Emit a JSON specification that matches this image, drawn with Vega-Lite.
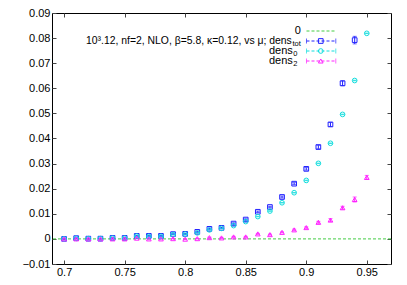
{
  "$schema": "https://vega.github.io/schema/vega-lite/v6.json",
  "width": 339,
  "height": 251,
  "autosize": {"type": "none"},
  "padding": {"left": 52, "top": 13, "right": 16, "bottom": 21},
  "background": "white",
  "config": {
    "view": {"stroke": "black", "strokeWidth": 1},
    "axis": {"labelFont": "Liberation Sans", "labelFontSize": 11, "labelColor": "black", "domain": false, "grid": false, "tickColor": "#444444", "tickSize": -4, "title": null}
  },
  "datasets": {
    "main": [
      {"mu": 0.70, "s": "tot", "v": 0.0000, "e": 0.0002},
      {"mu": 0.71, "s": "tot", "v": 0.0003, "e": 0.0002},
      {"mu": 0.72, "s": "tot", "v": 0.0001, "e": 0.0002},
      {"mu": 0.73, "s": "tot", "v": 0.0001, "e": 0.0002},
      {"mu": 0.74, "s": "tot", "v": 0.0004, "e": 0.0002},
      {"mu": 0.75, "s": "tot", "v": 0.0004, "e": 0.0002},
      {"mu": 0.76, "s": "tot", "v": 0.0012, "e": 0.0002},
      {"mu": 0.77, "s": "tot", "v": 0.0012, "e": 0.0002},
      {"mu": 0.78, "s": "tot", "v": 0.0012, "e": 0.0002},
      {"mu": 0.79, "s": "tot", "v": 0.0019, "e": 0.0002},
      {"mu": 0.80, "s": "tot", "v": 0.0020, "e": 0.0002},
      {"mu": 0.81, "s": "tot", "v": 0.0028, "e": 0.0002},
      {"mu": 0.82, "s": "tot", "v": 0.0040, "e": 0.0002},
      {"mu": 0.83, "s": "tot", "v": 0.0044, "e": 0.0002},
      {"mu": 0.84, "s": "tot", "v": 0.0061, "e": 0.0003},
      {"mu": 0.85, "s": "tot", "v": 0.0077, "e": 0.0003},
      {"mu": 0.86, "s": "tot", "v": 0.0108, "e": 0.0003},
      {"mu": 0.87, "s": "tot", "v": 0.0127, "e": 0.0003},
      {"mu": 0.88, "s": "tot", "v": 0.0167, "e": 0.0004},
      {"mu": 0.89, "s": "tot", "v": 0.0220, "e": 0.0004},
      {"mu": 0.90, "s": "tot", "v": 0.0279, "e": 0.0005},
      {"mu": 0.91, "s": "tot", "v": 0.0366, "e": 0.0007},
      {"mu": 0.92, "s": "tot", "v": 0.0456, "e": 0.0008},
      {"mu": 0.93, "s": "tot", "v": 0.0620, "e": 0.0010},
      {"mu": 0.94, "s": "tot", "v": 0.0792, "e": 0.0015},
      {"mu": 0.70, "s": "d0", "v": 0.0000, "e": 0.0001},
      {"mu": 0.71, "s": "d0", "v": 0.0002, "e": 0.0001},
      {"mu": 0.72, "s": "d0", "v": 0.0001, "e": 0.0001},
      {"mu": 0.73, "s": "d0", "v": 0.0001, "e": 0.0001},
      {"mu": 0.74, "s": "d0", "v": 0.0003, "e": 0.0001},
      {"mu": 0.75, "s": "d0", "v": 0.0003, "e": 0.0001},
      {"mu": 0.76, "s": "d0", "v": 0.0011, "e": 0.0001},
      {"mu": 0.77, "s": "d0", "v": 0.0010, "e": 0.0001},
      {"mu": 0.78, "s": "d0", "v": 0.0010, "e": 0.0001},
      {"mu": 0.79, "s": "d0", "v": 0.0017, "e": 0.0001},
      {"mu": 0.80, "s": "d0", "v": 0.0019, "e": 0.0001},
      {"mu": 0.81, "s": "d0", "v": 0.0024, "e": 0.0001},
      {"mu": 0.82, "s": "d0", "v": 0.0036, "e": 0.0001},
      {"mu": 0.83, "s": "d0", "v": 0.0042, "e": 0.0001},
      {"mu": 0.84, "s": "d0", "v": 0.0053, "e": 0.0001},
      {"mu": 0.85, "s": "d0", "v": 0.0069, "e": 0.0001},
      {"mu": 0.86, "s": "d0", "v": 0.0089, "e": 0.0001},
      {"mu": 0.87, "s": "d0", "v": 0.0111, "e": 0.0001},
      {"mu": 0.88, "s": "d0", "v": 0.0144, "e": 0.0001},
      {"mu": 0.89, "s": "d0", "v": 0.0184, "e": 0.0001},
      {"mu": 0.90, "s": "d0", "v": 0.0233, "e": 0.0001},
      {"mu": 0.91, "s": "d0", "v": 0.0301, "e": 0.0001},
      {"mu": 0.92, "s": "d0", "v": 0.0381, "e": 0.0001},
      {"mu": 0.93, "s": "d0", "v": 0.0496, "e": 0.0001},
      {"mu": 0.94, "s": "d0", "v": 0.0631, "e": 0.0001},
      {"mu": 0.95, "s": "d0", "v": 0.0819, "e": 0.0001},
      {"mu": 0.70, "s": "d2", "v": 0.0000, "e": 0.0001},
      {"mu": 0.71, "s": "d2", "v": 0.0000, "e": 0.0001},
      {"mu": 0.72, "s": "d2", "v": 0.0000, "e": 0.0001},
      {"mu": 0.73, "s": "d2", "v": 0.0000, "e": 0.0001},
      {"mu": 0.74, "s": "d2", "v": 0.0000, "e": 0.0001},
      {"mu": 0.75, "s": "d2", "v": 0.0000, "e": 0.0001},
      {"mu": 0.76, "s": "d2", "v": 0.0003, "e": 0.0001},
      {"mu": 0.77, "s": "d2", "v": 0.0000, "e": 0.0001},
      {"mu": 0.78, "s": "d2", "v": 0.0000, "e": 0.0001},
      {"mu": 0.79, "s": "d2", "v": 0.0001, "e": 0.0001},
      {"mu": 0.80, "s": "d2", "v": -0.0001, "e": 0.0001},
      {"mu": 0.81, "s": "d2", "v": 0.0001, "e": 0.0001},
      {"mu": 0.82, "s": "d2", "v": 0.0005, "e": 0.0002},
      {"mu": 0.83, "s": "d2", "v": 0.0004, "e": 0.0002},
      {"mu": 0.84, "s": "d2", "v": 0.0008, "e": 0.0002},
      {"mu": 0.85, "s": "d2", "v": 0.0008, "e": 0.0002},
      {"mu": 0.86, "s": "d2", "v": 0.0020, "e": 0.0002},
      {"mu": 0.87, "s": "d2", "v": 0.0017, "e": 0.0002},
      {"mu": 0.88, "s": "d2", "v": 0.0026, "e": 0.0002},
      {"mu": 0.89, "s": "d2", "v": 0.0036, "e": 0.0003},
      {"mu": 0.90, "s": "d2", "v": 0.0045, "e": 0.0003},
      {"mu": 0.91, "s": "d2", "v": 0.0066, "e": 0.0004},
      {"mu": 0.92, "s": "d2", "v": 0.0075, "e": 0.0006},
      {"mu": 0.93, "s": "d2", "v": 0.0124, "e": 0.0006},
      {"mu": 0.94, "s": "d2", "v": 0.0157, "e": 0.0010},
      {"mu": 0.95, "s": "d2", "v": 0.0245, "e": 0.0008}
    ],
    "leg": [
      {"k": "0", "t": "0", "sub": ""},
      {"k": "tot", "t": "10³.12, nf=2, NLO, β=5.8, κ=0.12, vs μ; dens", "sub": "tot"},
      {"k": "d0", "t": "dens", "sub": "0"},
      {"k": "d2", "t": "dens", "sub": "2"}
    ]
  },
  "layer": [
    {
      "layer": [
        {
          "data": {"values": [{}]},
          "mark": {"type": "rule", "strokeDash": [3, 2], "color": "#44cc44", "strokeWidth": 1},
          "encoding": {
            "y": {"datum": 0, "type": "quantitative", "scale": {"domain": [-0.01, 0.09], "nice": false}, "axis": {"orient": "right", "labels": false, "values": [-0.01, 0, 0.01, 0.02, 0.03, 0.04, 0.05, 0.06, 0.07, 0.08, 0.09]}}
          }
        },
        {
          "data": {"name": "main"},
          "mark": {"type": "errorbar", "ticks": {"size": 4}, "thickness": 1},
          "encoding": {
            "x": {"field": "mu", "type": "quantitative", "scale": {"domain": [0.69, 0.97], "nice": false, "zero": false}, "axis": {"orient": "top", "labels": false, "values": [0.7, 0.75, 0.8, 0.85, 0.9, 0.95]}},
            "y": {"field": "v", "type": "quantitative", "scale": {"domain": [-0.01, 0.09], "nice": false}, "axis": null},
            "yError": {"field": "e"},
            "color": {"field": "s", "type": "nominal", "scale": {"domain": ["0", "tot", "d0", "d2"], "range": ["#44cc44", "#2222ff", "#11dddd", "#ff22ff"]}, "legend": null}
          }
        },
        {
          "data": {"name": "main"},
          "mark": {"type": "point", "filled": false, "size": 22, "strokeWidth": 1, "opacity": 1},
          "encoding": {
            "x": {"field": "mu", "type": "quantitative", "scale": {"domain": [0.69, 0.97], "nice": false, "zero": false}, "axis": {"orient": "bottom", "values": [0.7, 0.75, 0.8, 0.85, 0.9, 0.95], "format": "~g", "labelPadding": 6}},
            "y": {"field": "v", "type": "quantitative", "scale": {"domain": [-0.01, 0.09], "nice": false}, "axis": {"orient": "left", "values": [-0.01, 0, 0.01, 0.02, 0.03, 0.04, 0.05, 0.06, 0.07, 0.08, 0.09], "format": "~g", "labelPadding": 6}},
            "color": {"field": "s", "type": "nominal", "scale": {"domain": ["0", "tot", "d0", "d2"], "range": ["#44cc44", "#2222ff", "#11dddd", "#ff22ff"]}, "legend": null},
            "shape": {"field": "s", "type": "nominal", "scale": {"domain": ["tot", "d0", "d2"], "range": ["square", "circle", "triangle-up"]}, "legend": null}
          }
        }
      ],
      "resolve": {"axis": {"x": "independent", "y": "independent"}}
    },
    {
      "data": {"name": "leg"},
      "layer": [
        {
          "transform": [{"filter": "datum.k == '0'"}],
          "mark": {"type": "text", "align": "right", "baseline": "middle", "font": "Liberation Sans", "fontSize": 11, "color": "black"},
          "encoding": {
            "x": {"datum": 0.8955, "type": "quantitative", "axis": null},
            "y": {"field": "k", "type": "nominal", "scale": {"type": "point", "domain": ["0", "tot", "d0", "d2"], "range": [18, 48], "padding": 0}, "axis": null},
            "text": {"field": "t"}
          }
        },
        {
          "transform": [{"filter": "datum.k == 'tot'"}],
          "mark": {"type": "text", "align": "right", "baseline": "middle", "font": "Liberation Sans", "fontSize": 10.4, "color": "black", "dx": -9},
          "encoding": {
            "x": {"datum": 0.8955, "type": "quantitative", "axis": null},
            "y": {"field": "k", "type": "nominal", "scale": {"type": "point", "domain": ["0", "tot", "d0", "d2"], "range": [18, 48], "padding": 0}, "axis": null},
            "text": {"field": "t"}
          }
        },
        {
          "transform": [{"filter": "datum.k == 'd0' || datum.k == 'd2'"}],
          "mark": {"type": "text", "align": "right", "baseline": "middle", "font": "Liberation Sans", "fontSize": 11, "color": "black", "dx": -8},
          "encoding": {
            "x": {"datum": 0.8955, "type": "quantitative", "axis": null},
            "y": {"field": "k", "type": "nominal", "scale": {"type": "point", "domain": ["0", "tot", "d0", "d2"], "range": [18, 48], "padding": 0}, "axis": null},
            "text": {"field": "t"}
          }
        },
        {
          "transform": [{"filter": "datum.k == 'tot'"}],
          "mark": {"type": "text", "align": "right", "baseline": "middle", "font": "Liberation Sans", "fontSize": 7.5, "color": "black", "dy": 3},
          "encoding": {
            "x": {"datum": 0.8955, "type": "quantitative", "axis": null},
            "y": {"field": "k", "type": "nominal", "scale": {"type": "point", "domain": ["0", "tot", "d0", "d2"], "range": [18, 48], "padding": 0}, "axis": null},
            "text": {"field": "sub"}
          }
        },
        {
          "transform": [{"filter": "datum.k == 'd0' || datum.k == 'd2'"}],
          "mark": {"type": "text", "align": "right", "baseline": "middle", "font": "Liberation Sans", "fontSize": 7.5, "color": "black", "dy": 3, "dx": -3.5},
          "encoding": {
            "x": {"datum": 0.8955, "type": "quantitative", "axis": null},
            "y": {"field": "k", "type": "nominal", "scale": {"type": "point", "domain": ["0", "tot", "d0", "d2"], "range": [18, 48], "padding": 0}, "axis": null},
            "text": {"field": "sub"}
          }
        },
        {
          "mark": {"type": "rule", "strokeDash": [3, 2], "strokeWidth": 1},
          "encoding": {
            "x": {"datum": 0.9002, "type": "quantitative", "axis": null},
            "x2": {"datum": 0.9244},
            "y": {"field": "k", "type": "nominal", "scale": {"type": "point", "domain": ["0", "tot", "d0", "d2"], "range": [18, 48], "padding": 0}, "axis": null},
            "color": {"field": "k", "type": "nominal", "scale": {"domain": ["0", "tot", "d0", "d2"], "range": ["#44cc44", "#2222ff", "#11dddd", "#ff22ff"]}, "legend": null}
          }
        },
        {
          "transform": [{"filter": "datum.k != '0'"}],
          "mark": {"type": "point", "filled": false, "size": 22, "strokeWidth": 1, "opacity": 1},
          "encoding": {
            "x": {"datum": 0.912, "type": "quantitative", "axis": null},
            "y": {"field": "k", "type": "nominal", "scale": {"type": "point", "domain": ["0", "tot", "d0", "d2"], "range": [18, 48], "padding": 0}, "axis": null},
            "color": {"field": "k", "type": "nominal", "scale": {"domain": ["0", "tot", "d0", "d2"], "range": ["#44cc44", "#2222ff", "#11dddd", "#ff22ff"]}, "legend": null},
            "shape": {"field": "k", "type": "nominal", "scale": {"domain": ["tot", "d0", "d2"], "range": ["square", "circle", "triangle-up"]}, "legend": null}
          }
        },
        {
          "transform": [{"filter": "datum.k != '0'"}],
          "mark": {"type": "tick", "orient": "vertical", "size": 5, "thickness": 1},
          "encoding": {
            "x": {"datum": 0.9002, "type": "quantitative", "axis": null},
            "y": {"field": "k", "type": "nominal", "scale": {"type": "point", "domain": ["0", "tot", "d0", "d2"], "range": [18, 48], "padding": 0}, "axis": null},
            "color": {"field": "k", "type": "nominal", "scale": {"domain": ["0", "tot", "d0", "d2"], "range": ["#44cc44", "#2222ff", "#11dddd", "#ff22ff"]}, "legend": null}
          }
        },
        {
          "transform": [{"filter": "datum.k != '0'"}],
          "mark": {"type": "tick", "orient": "vertical", "size": 5, "thickness": 1},
          "encoding": {
            "x": {"datum": 0.9244, "type": "quantitative", "axis": null},
            "y": {"field": "k", "type": "nominal", "scale": {"type": "point", "domain": ["0", "tot", "d0", "d2"], "range": [18, 48], "padding": 0}, "axis": null},
            "color": {"field": "k", "type": "nominal", "scale": {"domain": ["0", "tot", "d0", "d2"], "range": ["#44cc44", "#2222ff", "#11dddd", "#ff22ff"]}, "legend": null}
          }
        }
      ]
    }
  ],
  "resolve": {"scale": {"y": "independent"}, "axis": {"x": "independent", "y": "independent"}}
}
